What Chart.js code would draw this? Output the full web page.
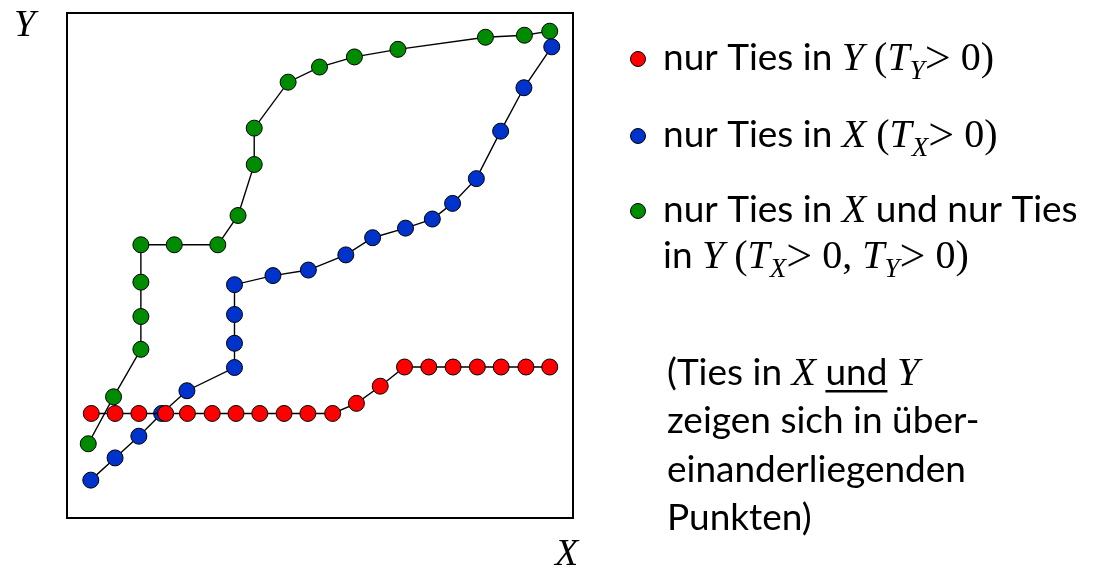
<!DOCTYPE html>
<html>
<head>
<meta charset="utf-8">
<script src="https://cdn.jsdelivr.net/npm/chart.js@4/dist/chart.umd.min.js"></script>
<style>
  html, body { margin: 0; padding: 0; background: #fff; }
  #ties { display: block; }
</style>
</head>
<body>
<canvas id="ties" width="1093" height="571"></canvas>
<script>
// point positions (0..100 on both axes)
var redX   = [4.8, 9.5, 14.2, 19.5, 23.8, 28.7, 33.4, 38.1, 42.9, 47.6, 52.5, 57.2, 61.9, 66.7, 71.5, 76.3, 81.1, 85.8, 90.7, 95.4];
var redY   = [20.7, 20.7, 20.7, 20.7, 20.7, 20.7, 20.7, 20.7, 20.7, 20.7, 20.7, 22.7, 26.1, 29.9, 29.9, 29.9, 29.9, 29.9, 29.9, 29.9];

var blueX  = [4.7, 9.5, 14.2, 18.7, 23.7, 33.1, 33.1, 33.1, 33.1, 40.7, 47.7, 55.1, 60.4, 66.9, 72.2, 76.2, 80.9, 85.7, 90.3, 95.8];
var blueY  = [7.5, 11.9, 16.2, 20.7, 25.2, 29.8, 34.6, 40.3, 46.2, 48.0, 49.1, 52.1, 55.5, 57.4, 59.2, 62.3, 67.2, 76.6, 85.2, 93.3];

var greenX = [4.2, 9.2, 14.6, 14.6, 14.6, 14.6, 21.2, 29.8, 33.8, 37.0, 37.0, 43.7, 49.9, 56.8, 65.4, 82.7, 90.4, 95.4];
var greenY = [14.7, 24.0, 33.4, 39.9, 46.7, 54.1, 54.1, 54.1, 59.9, 70.0, 77.2, 86.3, 89.3, 91.3, 92.8, 95.2, 95.6, 96.4];

var seriesColors = ['#ff0000', '#0033cc', '#008c00'];

// text pieces
var SANS  = '37px Lato';
var MI    = 'italic 40px "Liberation Serif"';
var MR    = '40px "Liberation Serif"';
var GT    = '46px "Liberation Serif"';
var SUB   = 'italic 27px "Liberation Serif"';

var legendLines = [
  { bullet: 0, y: 70,  runs: [['nur Ties in ', SANS], ['Y', MI], [' (', MR], ['T', MI], ['Y', SUB, 9], ['>', GT, 3], [' 0)', MR]] },
  { bullet: 1, y: 147, runs: [['nur Ties in ', SANS], ['X', MI], [' (', MR], ['T', MI], ['X', SUB, 9], ['>', GT, 3], [' 0)', MR]] },
  { bullet: 2, y: 222, runs: [['nur Ties in ', SANS], ['X', MI], [' und nur Ties', SANS]] },
  { y: 268, runs: [['in ', SANS], ['Y', MI], [' (', MR], ['T', MI], ['X', SUB, 9], ['>', GT, 3], [' 0, ', MR], ['T', MI], ['Y', SUB, 9], ['>', GT, 3], [' 0)', MR]] }
];
var noteLines = [
  { y: 385, runs: [['(Ties in ', SANS], ['X', MI], [' ', SANS], ['und', SANS, 0, true], [' ', SANS], ['Y', MI]] },
  { y: 433, runs: [['zeigen sich in über-', SANS]] },
  { y: 482, runs: [['einanderliegenden', SANS]] },
  { y: 530, runs: [['Punkten)', SANS]] }
];

function pts(xs, ys) {
  return xs.map(function (x, i) { return { x: x, y: ys[i] }; });
}

function drawRuns(ctx, x, y, runs) {
  runs.forEach(function (r) {
    ctx.font = r[1];
    ctx.fillText(r[0], x, y + (r[2] || 0));
    var w = ctx.measureText(r[0]).width;
    if (r[3]) ctx.fillRect(x, y + 5, w, 2.5);
    x += w;
  });
}

// frame around the plot and the text on the right
var frameAndText = {
  id: 'frameAndText',
  afterDatasetsDraw: function (chart) {
    var ctx = chart.ctx, a = chart.chartArea;
    ctx.save();
    ctx.strokeStyle = '#000';
    ctx.lineWidth = 2;
    ctx.strokeRect(a.left, a.top, a.right - a.left, a.bottom - a.top);

    ctx.fillStyle = '#000';
    ctx.textBaseline = 'alphabetic';
    ctx.font = 'italic 38px "Liberation Serif"';
    ctx.fillText('Y', 14, 36);
    ctx.fillText('X', 555, 565);

    legendLines.forEach(function (l) {
      if (l.bullet !== undefined) {
        ctx.beginPath();
        ctx.arc(638, l.y - 11, 7.5, 0, Math.PI * 2);
        ctx.fillStyle = seriesColors[l.bullet];
        ctx.fill();
        ctx.lineWidth = 1;
        ctx.strokeStyle = '#000';
        ctx.stroke();
      }
      ctx.fillStyle = '#000';
      drawRuns(ctx, 663, l.y, l.runs);
    });
    noteLines.forEach(function (l) {
      drawRuns(ctx, 667, l.y, l.runs);
    });
    ctx.restore();
  }
};

function series(label, data, color) {
  return {
    label: label,
    data: data,
    showLine: true,
    borderColor: '#000',
    borderWidth: 1.4,
    pointRadius: 8,
    pointHoverRadius: 8,
    pointBackgroundColor: color,
    pointBorderColor: '#000',
    pointBorderWidth: 1
  };
}

var ctx = document.getElementById('ties').getContext('2d');
var chart = new Chart(ctx, {
  type: 'scatter',
  data: {
    datasets: [
      series('nur Ties in Y', pts(redX, redY), seriesColors[0]),
      series('nur Ties in X', pts(blueX, blueY), seriesColors[1]),
      series('nur Ties in X und nur Ties in Y', pts(greenX, greenY), seriesColors[2])
    ]
  },
  options: {
    responsive: false,
    animation: false,
    devicePixelRatio: 1,
    layout: { padding: { left: 67, top: 13, right: 520, bottom: 53 } },
    scales: {
      x: { type: 'linear', min: 0, max: 100, display: false },
      y: { type: 'linear', min: 0, max: 100, display: false }
    },
    plugins: {
      legend: { display: false },
      tooltip: { enabled: false }
    }
  },
  plugins: [frameAndText]
});
</script>
</body>
</html>
